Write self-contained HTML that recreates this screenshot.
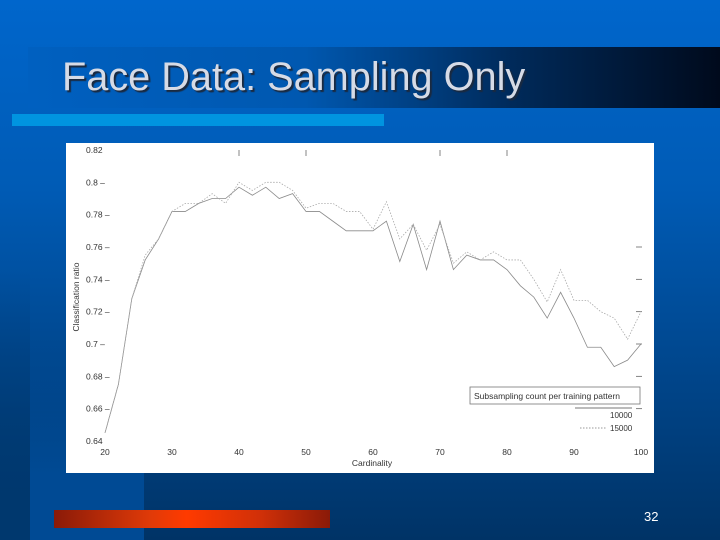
<!DOCTYPE html>
<html><head><meta charset="utf-8"><style>
html,body{margin:0;padding:0}
body{width:720px;height:540px;overflow:hidden;position:relative;font-family:"Liberation Sans",sans-serif;background:linear-gradient(180deg,#0066cc 0%,#005bb5 35%,#00458a 70%,#003366 100%)}
.abs{position:absolute}
</style></head><body>
<div class="abs" style="left:30px;top:0;width:114px;height:540px;background:linear-gradient(180deg,rgba(0,0,0,0) 0%,rgba(0,80,160,0.0) 60%,#004a94 88%)"></div>
<div class="abs" style="left:0;top:0;width:30px;height:540px;background:linear-gradient(180deg,rgba(0,0,0,0) 50%,#00386e 100%)"></div>
<div class="abs" style="left:28px;top:47px;width:692px;height:61px;background:linear-gradient(90deg,#0060c0 0%,#0058b0 40%,#002a5a 70%,#000a1c 100%)"></div>
<div class="abs" style="left:62px;top:55px;font-size:39.7px;color:#d6dbe6;text-shadow:2px 2px 1px #1a2a40;letter-spacing:0px">Face Data: Sampling Only</div>
<div class="abs" style="left:12px;top:114px;width:372px;height:12px;background:#0094e0"></div>
<div class="abs" style="left:54px;top:510px;width:276px;height:18px;background:linear-gradient(90deg,#8a1a08 0%,#e03a08 35%,#ff3a00 48%,#d03008 75%,#8a1a08 100%)"></div>
<div class="abs" style="left:644px;top:509px;font-size:13px;color:#ffffff">32</div>
<svg class="abs" style="left:66px;top:143px" width="588" height="330" viewBox="66 143 588 330">
<rect x="66" y="143" width="588" height="330" fill="#ffffff"/>
<g id="ax" font-size="8.5" fill="#333"></g>
<g id="series"></g>
<g id="legend"></g>
</svg>
<script>
const xs=[20,22,24,26,28,30,32,34,36,38,40,42,44,46,48,50,52,54,56,58,60,62,64,66,68,70,72,74,76,78,80,82,84,86,88,90,92,94,96,98,100];
const s10000=[0.645,0.675,0.728,0.752,0.765,0.782,0.782,0.787,0.79,0.79,0.797,0.792,0.797,0.79,0.793,0.782,0.782,0.776,0.77,0.77,0.77,0.776,0.751,0.774,0.746,0.776,0.746,0.755,0.752,0.752,0.746,0.736,0.729,0.716,0.732,0.716,0.698,0.698,0.686,0.69,0.70];
const s15000=[0.645,0.675,0.728,0.755,0.765,0.782,0.787,0.787,0.793,0.787,0.8,0.795,0.8,0.8,0.795,0.784,0.787,0.787,0.782,0.782,0.771,0.788,0.765,0.774,0.758,0.774,0.75,0.757,0.752,0.757,0.752,0.752,0.74,0.726,0.746,0.727,0.727,0.72,0.716,0.703,0.72];
const xTicks=[20,30,40,50,60,70,80,90,100];
const yTicks=[0.64,0.66,0.68,0.7,0.72,0.74,0.76,0.78,0.8,0.82];
const yLabels=["0.64","0.66","0.68","0.7","0.72","0.74","0.76","0.78","0.8","0.82"];
const NS="http://www.w3.org/2000/svg";
const X=v=>105+(v-20)/80*536;
const Y=v=>441-(v-0.64)/0.18*291;
function mk(t,a,p){const e=document.createElementNS(NS,t);for(const k in a)e.setAttribute(k,a[k]);p.appendChild(e);return e;}
const ax=document.getElementById('ax');
xTicks.forEach(t=>{const e=mk('text',{x:X(t),y:455,'text-anchor':'middle'},ax);e.textContent=t;


if([40,50,70,80].includes(t)){const l=mk('line',{x1:X(t),x2:X(t),y1:150,y2:156,stroke:'#666','stroke-width':0.8},ax);

}});
yTicks.forEach((t,i)=>{const e=mk('text',{x:86,y:Y(t)+3,'text-anchor':'start'},ax);e.textContent=yLabels[i]+(i>0&&i<9?' –':'');


if(t>=0.66&&t<=0.76){const l=mk('line',{x1:636,x2:642,y1:Y(t),y2:Y(t),stroke:'#666','stroke-width':0.8},ax);

}});
let xt=mk('text',{x:372,y:466,'text-anchor':'middle'},ax);xt.textContent='Cardinality';


let yt=mk('text',{x:79,y:297,'text-anchor':'middle',transform:'rotate(-90 79 297)'},ax);yt.textContent='Classification ratio';


const sg=document.getElementById('series');
function pts(a){return xs.map((x,i)=>X(x)+','+Y(a[i])).join(' ');}
let p1=mk('polyline',{points:pts(s10000),fill:'none',stroke:'#8a8a8a','stroke-width':0.8},sg);


let p2=mk('polyline',{points:pts(s15000),fill:'none',stroke:'#aaa','stroke-width':0.8,'stroke-dasharray':'1.5,1.5'},sg);


const lg=document.getElementById('legend');
let lb=mk('rect',{x:470,y:387,width:170,height:17,fill:'#fff',stroke:'#777','stroke-width':0.8},lg);


let ltt=mk('text',{x:474,y:399,'font-size':8.5,fill:'#333'},lg);ltt.textContent='Subsampling count per training pattern';


let l1=mk('line',{x1:575,x2:632,y1:408,y2:408,stroke:'#777','stroke-width':0.9},lg);


let t1=mk('text',{x:610,y:418,'font-size':8,fill:'#333'},lg);t1.textContent='10000';


let l2=mk('line',{x1:580,x2:607,y1:428,y2:428,stroke:'#999','stroke-width':0.9,'stroke-dasharray':'1.5,1.5'},lg);


let t2=mk('text',{x:610,y:431,'font-size':8,fill:'#333'},lg);t2.textContent='15000';


</script>
</body></html>
